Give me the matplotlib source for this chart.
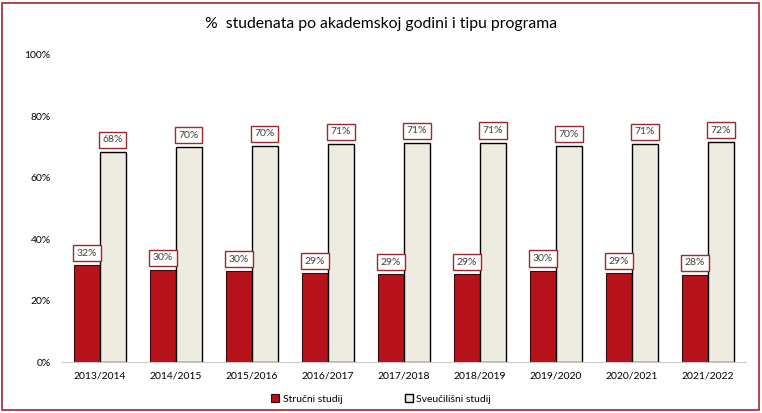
import numpy as np
import matplotlib
matplotlib.use("Agg")
import matplotlib.pyplot as plt
from matplotlib.patches import Rectangle

plt.rcParams['font.family'] = ['Lato', 'DejaVu Sans']

godine = ["2013/2014", "2014/2015", "2015/2016", "2016/2017", "2017/2018",
          "2018/2019", "2019/2020", "2020/2021", "2021/2022"]
strucni = [31.6, 30.1, 29.6, 29.0, 28.7, 28.6, 29.8, 29.0, 28.4]
sveucilisni = [68.4, 69.9, 70.4, 71.0, 71.3, 71.4, 70.2, 71.0, 71.6]
oznake_strucni = ["32%", "30%", "30%", "29%", "29%", "29%", "30%", "29%", "28%"]
oznake_sveuc = ["68%", "70%", "70%", "71%", "71%", "71%", "70%", "71%", "72%"]

crvena = "#b5121b"
bez = "#eeebe1"
rub = "#a0282d"

fig = plt.figure(figsize=(7.62, 4.13), dpi=100)
ax = fig.add_axes([0.081, 0.123, 0.898, 0.745])

x = np.arange(len(godine))
w = 0.34
b1 = ax.bar(x - w / 2, strucni, w, color=crvena, edgecolor="#3a0a0c", linewidth=0.8, label="Stručni studij")
b2 = ax.bar(x + w / 2, sveucilisni, w, color=bez, edgecolor="black", linewidth=1.0, label="Sveučilišni studij")

box = dict(boxstyle="square,pad=0.35", facecolor="white", edgecolor=rub, linewidth=1.0)
for xi, v, t in zip(x, strucni, oznake_strucni):
    ax.text(xi - w / 2, v + 2.4, t, ha="center", va="bottom", fontsize=7.5, color="#404040", bbox=box)
for xi, v, t in zip(x, sveucilisni, oznake_sveuc):
    ax.text(xi + w / 2, v + 2.4, t, ha="center", va="bottom", fontsize=7.5, color="#404040", bbox=box)

ax.set_xlim(-0.5, len(godine) - 0.5)
ax.set_ylim(0, 100)
ax.set_yticks([0, 20, 40, 60, 80, 100])
ax.set_yticklabels(["0%", "20%", "40%", "60%", "80%", "100%"])
ax.set_xticks(x)
ax.set_xticklabels(godine)
ax.tick_params(axis="both", length=0, labelsize=7.5, colors="black")
ax.tick_params(axis="y", pad=8)
ax.tick_params(axis="x", pad=7)
for s in ["top", "right", "left"]:
    ax.spines[s].set_visible(False)
ax.spines["bottom"].set_color("#c8c8c8")

fig.text(0.5, 0.943, "%  studenata po akademskoj godini i tipu programa", ha="center", va="center", fontsize=11.3)

fig.legend(handles=[b1, b2], loc="center", bbox_to_anchor=(0.5, 0.034), ncol=2, frameon=False,
           fontsize=7.5, handlelength=0.8, handleheight=0.8, handletextpad=0.3, columnspacing=6)

fig.patches.append(Rectangle((0.003, 0.007), 0.993, 0.986, transform=fig.transFigure,
                             fill=False, edgecolor=rub, linewidth=1.2))

fig.savefig("out.png", dpi=100)
